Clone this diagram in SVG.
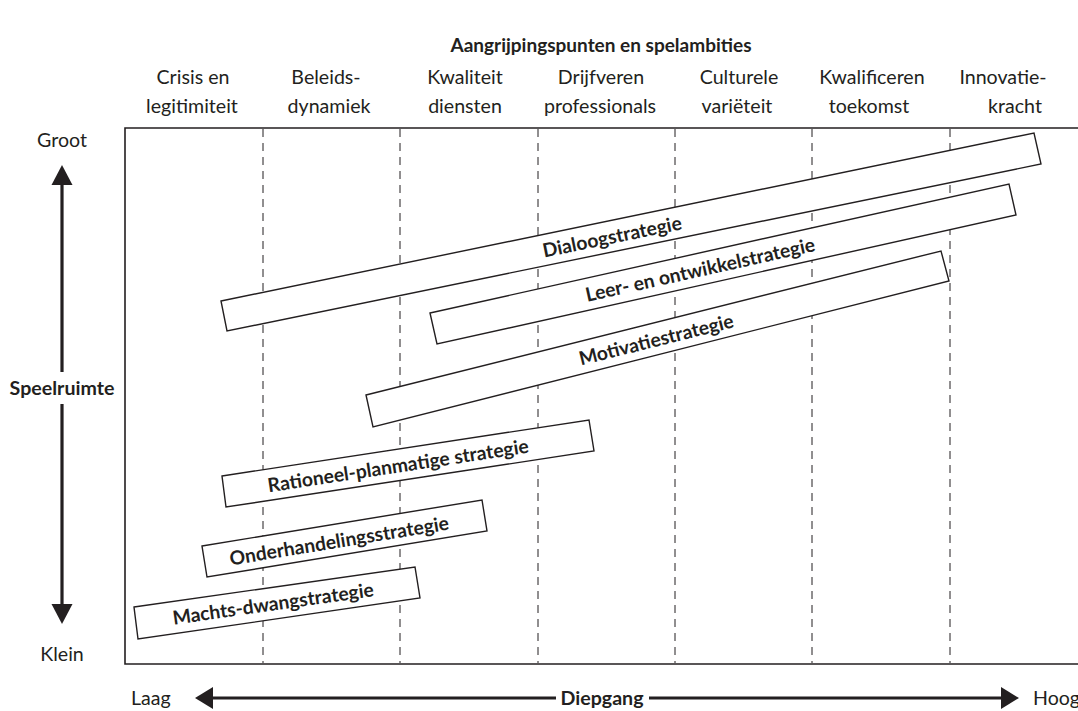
<svg xmlns="http://www.w3.org/2000/svg" width="1078" height="711" viewBox="0 0 1078 711">
  <defs>
    <style>
      text { font-family: Lato, "Open Sans", "Liberation Sans", sans-serif; fill: #231f20; }
      .title { font-size: 19px; font-weight: 700; text-anchor: middle; }
      .col { font-size: 19.6px; text-anchor: middle; }
      .axis { font-size: 19.6px; }
      .axisb { font-size: 19.6px; font-weight: 700; text-anchor: middle; }
      .bar { fill: #ffffff; stroke: #231f20; stroke-width: 1.4; }
      .lbl { font-size: 19.3px; font-weight: 700; text-anchor: middle; dominant-baseline: central; }
      .grid { stroke: #231f20; stroke-width: 1; stroke-dasharray: 8 6; }
      .frame { fill: none; stroke: #231f20; stroke-width: 1.6; }
      .arrow { stroke: #231f20; stroke-width: 3.2; fill: none; }
      .head { fill: #231f20; }
    </style>
  </defs>

  <!-- heading -->
  <text class="title" x="601" y="52">Aangrijpingspunten en spelambities</text>

  <!-- column headings -->
  <g id="columns">
    <text class="col" x="193" y="84">Crisis en</text>
    <text class="col" x="192" y="113">legitimiteit</text>
    <text class="col" x="326" y="84">Beleids-</text>
    <text class="col" x="329" y="113">dynamiek</text>
    <text class="col" x="465" y="84">Kwaliteit</text>
    <text class="col" x="465" y="113">diensten</text>
    <text class="col" x="601" y="84">Drijfveren</text>
    <text class="col" x="600" y="113">professionals</text>
    <text class="col" x="739" y="84">Culturele</text>
    <text class="col" x="737" y="113">variëteit</text>
    <text class="col" x="872" y="84">Kwalificeren</text>
    <text class="col" x="869" y="113">toekomst</text>
    <text class="col" x="1003" y="84">Innovatie-</text>
    <text class="col" x="1015" y="113">kracht</text>
  </g>

  <!-- plot frame and column separators -->
  <g id="frame">
    <path class="frame" d="M1080,128 H125 V664 H1080"/>
    <line class="grid" x1="263" y1="129" x2="263" y2="663"/>
    <line class="grid" x1="400" y1="129" x2="400" y2="663"/>
    <line class="grid" x1="538" y1="129" x2="538" y2="663"/>
    <line class="grid" x1="675" y1="129" x2="675" y2="663"/>
    <line class="grid" x1="812" y1="129" x2="812" y2="663"/>
    <line class="grid" x1="950" y1="129" x2="950" y2="663"/>
  </g>

  <!-- vertical axis: Speelruimte -->
  <g id="axis-y">
    <text class="axis" x="62" y="147" text-anchor="middle">Groot</text>
    <text class="axis" x="62" y="661" text-anchor="middle">Klein</text>
    <line class="arrow" x1="62" y1="182" x2="62" y2="372"/>
    <line class="arrow" x1="62" y1="404" x2="62" y2="607"/>
    <polygon class="head" points="62,165 51.5,185 72.5,185"/>
    <polygon class="head" points="62,624 51.5,604 72.5,604"/>
    <text class="axisb" x="62" y="395">Speelruimte</text>
  </g>

  <!-- horizontal axis: Diepgang -->
  <g id="axis-x">
    <text class="axis" x="131" y="705">Laag</text>
    <text class="axis" x="1033" y="705">Hoog</text>
    <line class="arrow" x1="211" y1="698" x2="556" y2="698"/>
    <line class="arrow" x1="649" y1="698" x2="1003" y2="698"/>
    <polygon class="head" points="195,698 213,687 213,709"/>
    <polygon class="head" points="1019,698 1001,687 1001,709"/>
    <text class="axisb" x="602" y="705">Diepgang</text>
  </g>

  <!-- strategies -->
  <g id="dialoog">
    <polygon class="bar" points="221,301 1034,133 1041,164 227,331"/>
    <text class="lbl" transform="translate(612,236) rotate(-11.6)">Dialoogstrategie</text>
  </g>
  <g id="leer-ontwikkel">
    <polygon class="bar" points="430,313 1009,184 1016,215 437,344"/>
    <text class="lbl" transform="translate(700,269) rotate(-12.56)">Leer- en ontwikkelstrategie</text>
  </g>
  <g id="motivatie">
    <polygon class="bar" points="366,395 941,251 949,281 373,427"/>
    <text class="lbl" transform="translate(656,339) rotate(-14.09)">Motivatiestrategie</text>
  </g>
  <g id="rationeel">
    <polygon class="bar" points="222,476 589,420 594,451 226,507"/>
    <text class="lbl" transform="translate(398,465) rotate(-8.66)">Rationeel-planmatige strategie</text>
  </g>
  <g id="onderhandeling">
    <polygon class="bar" points="202,546 482,500 487,531 207,577"/>
    <text class="lbl" transform="translate(339,540) rotate(-9.33)">Onderhandelingsstrategie</text>
  </g>
  <g id="machts-dwang">
    <polygon class="bar" points="134,607 415,567 420,598 138,639"/>
    <text class="lbl" transform="translate(273,603) rotate(-8.11)">Machts-dwangstrategie</text>
  </g>
</svg>
